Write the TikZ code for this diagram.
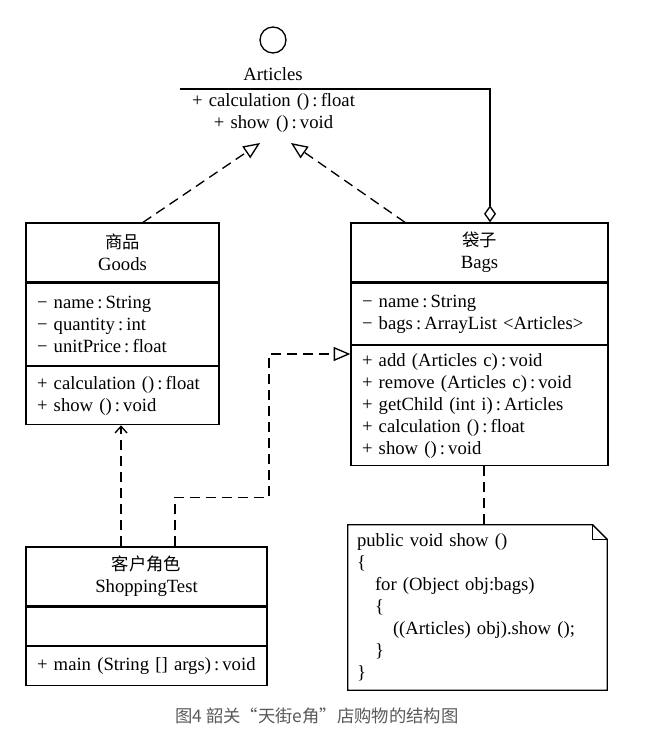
\documentclass[tikz,border=0pt]{standalone}
\usepackage{fontspec}
\setmainfont{Liberation Serif}
\newfontfamily\cjk{Noto Sans CJK SC}
\usepackage{tikz}
\usetikzlibrary{arrows.meta,%
                shapes,positioning}

\begin{document}
\begin{tikzpicture}[x=0.75pt,y=-0.75pt,
  every node/.style={font=\fontsize{14pt}{16.5pt}\selectfont},
  cls/.style={draw,line width=1pt,inner xsep=8.25pt,inner ysep=2pt},
  head/.style={cls,align=center},
  body/.style={cls,align=left},
  dashline/.style={line width=1pt,dash pattern=on 7.5pt off 4.5pt},
  realize/.style={dashline,-{Triangle[open,length=12.5pt,width=10.5pt]}},
  depend/.style={dashline,-{Straight Barb[length=5pt,width=9pt]}},
  aggr/.style={line width=1pt,-{Diamond[open,length=12.75pt,width=9pt]}}]
\useasboundingbox (0,0) rectangle (647,747);

\node[circle,draw,line width=1pt,minimum size=19.5pt,inner sep=0pt] (artIcon) at (273,40) {};
\node (artName) at (273,74) {Articles};
\node[anchor=north,text width=140.25pt,inner xsep=0pt,inner ysep=3pt,align=center] (artOps) at (273.5,89)
  {+ calculation ()\,:\,float\\+ show ()\,:\,void};
\draw[line width=1.2pt] (artOps.north west) -- (artOps.north east);

\node[head,text width=128.25pt,minimum height=44.25pt] (goodsName) at (122.5,252.5)
  {{\cjk\fontsize{13pt}{16.5pt}\selectfont 商品}\\Goods};
\node[body,text width=128.25pt,minimum height=61.5pt,below=0pt of goodsName] (goodsAttr)
  {− name\,:\,String\\− quantity\,:\,int\\− unitPrice\,:\,float};
\node[body,text width=128.25pt,minimum height=43.5pt,below=0pt of goodsAttr] (goodsOps)
  {+ calculation ()\,:\,float\\+ show ()\,:\,void};

\node[head,text width=176.25pt,minimum height=44.25pt] (bagsName) at (479.5,252.5)
  {{\cjk\fontsize{13pt}{16.5pt}\selectfont 袋子}\\Bags};
\node[body,text width=176.25pt,minimum height=45.75pt,below=0pt of bagsName] (bagsAttr)
  {− name\,:\,String\\− bags\,:\,ArrayList <Articles>};
\node[body,text width=176.25pt,minimum height=90pt,below=0pt of bagsAttr] (bagsOps)
  {+ add (Articles c)\,:\,void\\+ remove (Articles c)\,:\,void\\+ getChild (int i)\,:\,Articles\\+ calculation ()\,:\,float\\+ show ()\,:\,void};

\node[head,text width=164.25pt,minimum height=44.25pt] (shopName) at (146.5,576.5)
  {{\cjk\fontsize{13pt}{16.5pt}\selectfont 客户角色}\\ShoppingTest};
\node[body,text width=164.25pt,minimum height=28.5pt,below=0pt of shopName] (shopAttr) {};
\node[body,text width=164.25pt,minimum height=29.25pt,below=0pt of shopAttr] (shopOps)
  {+ main (String [] args)\,:\,void};

\node[align=left,text width=180.75pt,inner xsep=6.75pt,inner ysep=2pt,minimum height=123.75pt] (note) at (477.5,607.5)
  {public void show ()\\\{\\\hspace*{13.5pt}for (Object obj:bags)\\\hspace*{13.5pt}\{\\\hspace*{27pt}((Articles) obj).show ();\\\hspace*{13.5pt}\}\\\}};
\draw[line width=1pt] (note.north west) -- ([xshift=-11pt]note.north east) -- ([yshift=-11pt]note.north east)
  -- (note.south east) -- (note.south west) -- cycle;
\draw[line width=1pt] ([xshift=-11pt]note.north east) |- ([yshift=-11pt]note.north east);

\draw[realize] ([xshift=15.4pt]goodsName.north) -- ([xshift=-10.1pt,yshift=-40.5pt]artOps.north);
\draw[realize] ([xshift=-55.9pt]bagsName.north) -- ([xshift=13.1pt,yshift=-40.5pt]artOps.north);
\draw[aggr] (artOps.north east) -| ([xshift=7.9pt]bagsName.north);
\draw[depend] ([xshift=-19.1pt]shopName.north) -- ([xshift=-19.1pt]shopName.north |- goodsOps.south);
\draw[realize] ([xshift=21.4pt]shopName.north) -- ++(0,-49) -- ++(94,0) |- ([yshift=-6.75pt]bagsOps.north west);
\draw[dashline] ([xshift=3.4pt]bagsOps.south) -- ([xshift=3.4pt]bagsOps.south |- note.north);

\node[text=black!65,font=\cjk\fontsize{13pt}{16pt}\selectfont] (caption) at (317,716) {图4 韶关“天街e角”店购物的结构图};
\end{tikzpicture}
\end{document}
